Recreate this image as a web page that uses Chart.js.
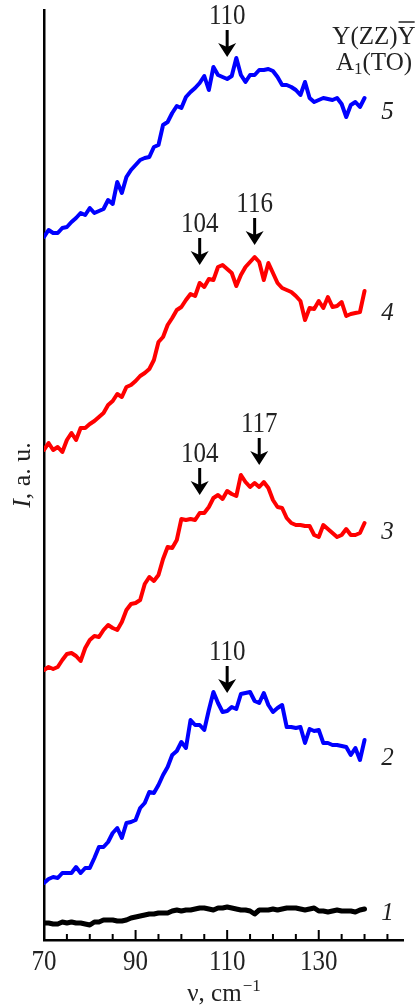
<!DOCTYPE html>
<html>
<head>
<meta charset="utf-8">
<script src="https://cdn.jsdelivr.net/npm/chart.js@4.4.1/dist/chart.umd.min.js"></script>
<style>
  html, body { margin: 0; padding: 0; background: #fff; }
  #wrap { width: 417px; height: 1007px; position: relative; }
</style>
</head>
<body>
<div id="wrap"><canvas id="ramanChart"></canvas></div>
<script>
// Raman spectra, Y(ZZ)Y geometry, curves stacked with offsets (a.u.)
const wavenumber = [
  70, 71, 72, 73, 74, 75, 76, 77, 78, 79,
  80, 81, 82, 83, 84, 85, 86, 87, 88, 89,
  90, 91, 92, 93, 94, 95, 96, 97, 98, 99,
  100, 101, 102, 103, 104, 105, 106, 107, 108, 109,
  110, 111, 112, 113, 114, 115, 116, 117, 118, 119,
  120, 121, 122, 123, 124, 125, 126, 127, 128, 129,
  130, 131, 132, 133, 134, 135, 136, 137, 138, 139,
  140
];

const curve1 = [
  1.7, 1.7, 1.6, 1.6, 1.8, 1.7, 1.8, 1.7, 1.7, 1.6,
  1.5, 1.8, 1.8, 2.0, 2.0, 2.0, 1.9, 1.9, 2.0, 2.2,
  2.3, 2.4, 2.5, 2.6, 2.6, 2.7, 2.7, 2.7, 2.9, 3.0,
  2.9, 3.0, 3.0, 3.1, 3.2, 3.2, 3.1, 3.0, 3.2, 3.2,
  3.3, 3.2, 3.1, 3.0, 3.0, 2.9, 2.6, 3.0, 3.0, 3.0,
  3.1, 3.0, 3.1, 3.2, 3.2, 3.2, 3.1, 3.0, 3.1, 3.2,
  2.9, 2.9, 2.8, 2.9, 3.0, 2.9, 2.9, 2.9, 2.8, 3.0,
  3.1
];

const curve2 = [
  5.7, 6.1, 6.3, 6.2, 6.7, 6.7, 6.7, 7.3, 6.7, 7.2,
  7.2, 8.2, 9.3, 9.3, 9.8, 10.7, 11.2, 10.2, 11.7, 11.8,
  12.0, 13.2, 13.7, 14.8, 14.7, 15.5, 16.5, 17.3, 18.5, 18.9,
  19.8, 19.2, 22.0, 21.5, 21.5, 21.0, 23.0, 24.8, 23.7, 22.8,
  22.9, 23.3, 23.1, 24.6, 24.7, 24.8, 23.9, 23.7, 24.7, 23.5,
  22.8, 23.2, 23.5, 21.3, 21.3, 21.2, 21.3, 19.7, 21.1, 20.9,
  21.0, 19.7, 19.7, 19.5, 19.5, 19.4, 19.3, 18.5, 19.2, 18.0,
  20.0
];

const curve3 = [
  27.0, 27.3, 27.1, 27.3, 28.0, 28.6, 28.7, 28.4, 27.9, 29.2,
  30.0, 30.4, 30.3, 31.0, 31.5, 31.2, 31.0, 31.8, 33.0, 33.6,
  33.7, 34.0, 35.6, 36.3, 35.9, 36.5, 38.1, 39.3, 39.2, 40.0,
  42.1, 42.0, 42.1, 42.0, 42.7, 42.7, 43.3, 44.2, 44.5, 44.1,
  44.9, 44.6, 44.4, 46.5, 45.8, 45.3, 45.7, 45.3, 45.8, 45.2,
  44.0, 43.3, 43.2, 42.2, 41.7, 41.5, 41.5, 41.4, 41.4, 40.5,
  40.3, 41.5, 41.1, 40.7, 40.3, 40.5, 41.1, 40.5, 40.5, 40.7,
  41.7
];

const curve4 = [
  49.0, 49.7, 49.0, 49.3, 48.8, 50.0, 50.7, 50.0, 51.2, 51.2,
  51.6, 51.9, 52.3, 52.7, 53.5, 53.9, 54.6, 54.3, 55.3, 55.5,
  55.9, 56.4, 56.7, 57.1, 58.0, 59.8, 60.3, 61.5, 62.2, 63.0,
  63.3, 64.0, 64.6, 64.4, 65.7, 65.3, 66.1, 66.0, 67.3, 67.5,
  67.1, 66.7, 65.4, 66.5, 67.3, 67.8, 68.3, 67.8, 66.0, 67.7,
  66.7, 65.7, 65.2, 65.0, 64.8, 64.4, 63.9, 62.0, 63.2, 63.1,
  63.9, 63.2, 64.3, 63.3, 63.4, 63.8, 62.4, 62.6, 62.7, 62.8,
  64.9
];

const curve5 = [
  70.3, 71.0, 70.7, 70.7, 71.2, 71.3, 71.8, 72.2, 72.7, 72.5,
  73.2, 72.7, 72.9, 73.1, 74.0, 73.6, 75.8, 74.7, 76.3, 77.0,
  77.5, 78.0, 78.2, 78.3, 79.3, 79.5, 81.5, 81.8, 82.7, 83.4,
  83.2, 84.3, 84.8, 85.2, 85.7, 86.4, 85.0, 87.3, 86.5, 86.3,
  86.1, 86.4, 88.2, 86.5, 85.8, 86.5, 86.5, 87.0, 87.0, 87.1,
  86.9, 86.3, 85.5, 85.5, 85.3, 85.0, 84.5, 85.8, 84.2, 83.8,
  84.0, 84.2, 84.1, 84.0, 84.2, 83.6, 82.3, 83.5, 83.8, 83.3,
  84.2
];

const xTicks = [70, 75, 80, 85, 90, 95, 100, 105, 110, 115, 120, 125, 130, 135, 140, 145];
const xTickLabels = [70, 90, 110, 130];

const curveNames = ["1", "2", "3", "4", "5"];
const curveNameY = [2.7, 18.2, 40.8, 62.7, 82.8];

// peak markers (arrow position and arrow tip height)
const peakX = [110, 104, 116, 104, 117, 110];
const peakTip = [88.3, 67.5, 69.5, 44.5, 47.5, 24.7];

const toPoints = (ys) => wavenumber.map((x, i) => ({ x: x, y: ys[i] }));

const SERIF = '"Liberation Serif", "DejaVu Serif", serif';
const TEXT = "#222";

// numbers in the original look a bit taller than the serif font
function tallText(ctx, str, x, y, sy) {
  ctx.save();
  ctx.translate(x, y);
  ctx.scale(1, sy);
  ctx.fillText(str, 0, 0);
  ctx.restore();
}

const decorations = {
  id: "decorations",
  afterDraw(chart) {
    const { ctx, chartArea, scales: { x, y } } = chart;
    ctx.save();
    ctx.strokeStyle = "#000";
    ctx.fillStyle = "#000";

    // inward tick marks on the x axis
    ctx.lineWidth = 2;
    xTicks.forEach((v) => {
      const px = x.getPixelForValue(v);
      const len = xTickLabels.includes(v) ? 10 : 6;
      ctx.beginPath();
      ctx.moveTo(px, chartArea.bottom);
      ctx.lineTo(px, chartArea.bottom - len);
      ctx.stroke();
    });

    // tick labels from the axis ticks
    ctx.fillStyle = TEXT;
    ctx.font = "25px " + SERIF;
    ctx.textAlign = "center";
    ctx.textBaseline = "middle";
    x.ticks.forEach((t) => {
      tallText(ctx, String(t.value), x.getPixelForValue(t.value), 962, 1.2);
    });

    // peak arrows
    peakX.forEach((v, i) => {
      const px = x.getPixelForValue(v);
      const tip = y.getPixelForValue(peakTip[i]);
      ctx.fillStyle = "#000";
      ctx.lineWidth = 3;
      ctx.beginPath();
      ctx.moveTo(px, tip - 27);
      ctx.lineTo(px, tip - 9);
      ctx.stroke();
      ctx.beginPath();
      ctx.moveTo(px, tip);
      ctx.lineTo(px - 9, tip - 14);
      ctx.lineTo(px, tip - 10);
      ctx.lineTo(px + 9, tip - 14);
      ctx.closePath();
      ctx.fill();
      ctx.fillStyle = TEXT;
      ctx.font = "25px " + SERIF;
      ctx.textAlign = "center";
      ctx.textBaseline = "middle";
      tallText(ctx, String(v), px, tip - 41, 1.2);
    });

    // curve numbers
    ctx.fillStyle = TEXT;
    ctx.font = "italic 25px " + SERIF;
    ctx.textAlign = "center";
    ctx.textBaseline = "middle";
    curveNames.forEach((n, i) => {
      ctx.fillText(n, x.getPixelForValue(145), y.getPixelForValue(curveNameY[i]));
    });

    // y title: I, a. u.
    ctx.save();
    ctx.translate(23, (chartArea.top + chartArea.bottom) / 2);
    ctx.rotate(-Math.PI / 2);
    ctx.textAlign = "left";
    ctx.font = "italic 26px " + SERIF;
    const wI = ctx.measureText("I").width;
    ctx.font = "26px " + SERIF;
    const wRest = ctx.measureText(", a. u.").width;
    const start = -(wI + wRest) / 2;
    ctx.font = "italic 26px " + SERIF;
    ctx.fillText("I", start, 0);
    ctx.font = "26px " + SERIF;
    ctx.fillText(", a. u.", start + wI, 0);
    ctx.restore();

    // x title: ν, cm^-1
    ctx.textBaseline = "alphabetic";
    ctx.textAlign = "left";
    ctx.font = "25px " + SERIF;
    const wMain = ctx.measureText("ν, cm").width;
    ctx.font = "17px " + SERIF;
    const wSup = ctx.measureText("−1").width;
    const cx = (chartArea.left + chartArea.right) / 2;
    const x0 = cx - (wMain + wSup) / 2;
    ctx.font = "25px " + SERIF;
    ctx.fillText("ν, cm", x0, 1001);
    ctx.font = "17px " + SERIF;
    ctx.fillText("−1", x0 + wMain + 1, 991);

    // geometry note, top right
    ctx.font = "25px " + SERIF;
    ctx.textAlign = "left";
    ctx.textBaseline = "middle";
    const geo = "Y(ZZ)Y";
    const wGeo = ctx.measureText(geo).width;
    const gx = 374 - wGeo / 2;
    ctx.fillText(geo, gx, 37);
    const wLastY = ctx.measureText("Y").width;
    ctx.lineWidth = 1.5;
    ctx.strokeStyle = TEXT;
    ctx.beginPath();
    ctx.moveTo(gx + wGeo - wLastY + 1, 22);
    ctx.lineTo(gx + wGeo - 1, 22);
    ctx.stroke();

    const wA = ctx.measureText("A").width;
    ctx.font = "17px " + SERIF;
    const w1 = ctx.measureText("1").width;
    ctx.font = "25px " + SERIF;
    const wTO = ctx.measureText("(TO)").width;
    const ax = 374 - (wA + w1 + wTO) / 2;
    ctx.fillText("A", ax, 63);
    ctx.font = "17px " + SERIF;
    ctx.fillText("1", ax + wA, 70);
    ctx.font = "25px " + SERIF;
    ctx.fillText("(TO)", ax + wA + w1, 63);

    ctx.restore();
  }
};

const ctx = document.getElementById("ramanChart").getContext("2d");
new Chart(ctx, {
  type: "line",
  data: {
    datasets: [
      { label: "1", data: toPoints(curve1), borderColor: "#000000", borderWidth: 5 },
      { label: "2", data: toPoints(curve2), borderColor: "#0000ff", borderWidth: 4 },
      { label: "3", data: toPoints(curve3), borderColor: "#ff0000", borderWidth: 4 },
      { label: "4", data: toPoints(curve4), borderColor: "#ff0000", borderWidth: 4 },
      { label: "5", data: toPoints(curve5), borderColor: "#0000ff", borderWidth: 4 },
    ],
  },
  options: {
    responsive: true,
    maintainAspectRatio: false,
    animation: false,
    devicePixelRatio: 1,
    elements: {
      point: { radius: 0 },
      line: { tension: 0, fill: false, borderJoinStyle: "round", borderCapStyle: "round" },
    },
    layout: { padding: { left: 44, right: 14, top: 10, bottom: 0 } },
    plugins: { legend: { display: false }, tooltip: { enabled: false } },
    scales: {
      x: {
        type: "linear",
        min: 70,
        max: 148.4,
        afterFit: (s) => { s.height = 67; },
        afterBuildTicks: (s) => { s.ticks = xTickLabels.map((v) => ({ value: v })); },
        grid: { display: false, drawTicks: false },
        border: { display: true, color: "#000", width: 2.5 },
        ticks: { display: false },
      },
      y: {
        type: "linear",
        min: 0,
        max: 93,
        afterFit: (s) => { s.width = 0; },
        grid: { display: false, drawTicks: false },
        border: { display: true, color: "#000", width: 2.5 },
        ticks: { display: false },
      },
    },
  },
  plugins: [decorations],
});
</script>
</body>
</html>
